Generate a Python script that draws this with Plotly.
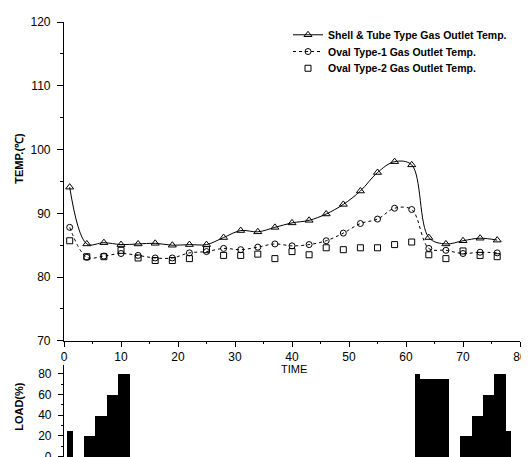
import plotly.graph_objects as go

time = [1, 4, 7, 10, 13, 16, 19, 22, 25, 28, 31, 34, 37, 40, 43, 46, 49, 52, 55, 58, 61, 64, 67, 70, 73, 76]
shell_tube = [94.1, 85.2, 85.4, 85.1, 85.2, 85.3, 85.0, 85.1, 85.1, 86.2, 87.3, 87.1, 87.8, 88.5, 88.9, 89.9,
              91.4, 93.5, 96.4, 98.1, 97.6, 86.2, 85.2, 85.7, 86.1, 85.8]
oval1 = [87.8, 83.1, 83.3, 83.7, 83.4, 83.0, 83.0, 83.8, 84.0, 84.5, 84.3, 84.7, 85.2, 84.9, 85.1, 85.7,
         86.9, 88.4, 89.1, 90.8, 90.6, 84.5, 84.2, 83.7, 83.9, 83.8]
oval2 = [85.7, 83.2, 83.2, 84.2, 83.0, 82.6, 82.6, 82.9, 84.3, 83.4, 83.4, 83.6, 82.9, 84.0, 83.5, 84.6,
         84.3, 84.6, 84.6, 85.1, 85.5, 83.5, 82.9, 84.1, 83.4, 83.2]

load_time = [1, 4, 5, 6, 7, 8, 9, 10, 11, 62, 63, 64, 65, 66, 67, 70, 71, 72, 73, 74, 75, 76, 77, 78]
load_pct = [25, 20, 20, 40, 40, 60, 60, 80, 80, 80, 75, 75, 75, 75, 75, 20, 20, 40, 40, 60, 60, 80, 80, 25]

FONT = "Liberation Sans, Arial, sans-serif"

W, H = 529, 457
L, R, T, B = 56, 17, 14, 0
PW, PH = W - L - R, H - T - B


def px_x(p):
    return (p - L) / PW


def px_y(p):
    return (H - B - p) / PH


fig = go.Figure()
fig.add_trace(go.Scatter(
    x=time, y=shell_tube, mode="lines+markers", name="Shell & Tube Type Gas Outlet Temp.",
    line=dict(color="black", width=1, shape="spline", smoothing=1.0),
    marker=dict(symbol="triangle-up-open", size=7, color="black", line=dict(width=1)),
    xaxis="x", yaxis="y", legend="legend"))
fig.add_trace(go.Scatter(
    x=time, y=oval1, mode="lines+markers", name="Oval Type-1 Gas Outlet Temp.",
    line=dict(color="black", width=1, dash="dot", shape="spline", smoothing=1.0),
    marker=dict(symbol="circle-open", size=6, color="black", line=dict(width=1)),
    xaxis="x", yaxis="y", legend="legend2"))
fig.add_trace(go.Scatter(
    x=time, y=oval2, mode="markers", name="Oval Type-2 Gas Outlet Temp.",
    marker=dict(symbol="square-open", size=6, color="black", line=dict(width=1)),
    xaxis="x", yaxis="y", legend="legend3"))
fig.add_trace(go.Bar(
    x=load_time, y=load_pct, width=1, marker=dict(color="black", line=dict(width=0)),
    showlegend=False, xaxis="x2", yaxis="y2"))

leg_font = dict(family=FONT, size=10.5, color="black", weight="bold")


def leg(row_y):
    return dict(x=px_x(280), y=px_y(row_y), xanchor="left", yanchor="middle",
                font=leg_font, bgcolor="rgba(0,0,0,0)", itemwidth=30)


fig.update_layout(
    width=W, height=H,
    margin=dict(l=L, r=R, t=T, b=B),
    paper_bgcolor="white", plot_bgcolor="white",
    font=dict(family=FONT, size=12, color="black"),
    bargap=0,
    showlegend=True,
    legend=leg(27), legend2=leg(44), legend3=leg(61),
    xaxis=dict(domain=[0, 1], range=[0, 80], anchor="y", dtick=10, tick0=0,
               showline=True, linecolor="black", linewidth=1.2,
               ticks="outside", ticklen=5, tickwidth=1, tickcolor="black",
               minor=dict(dtick=5, ticks="outside", ticklen=2, tickcolor="black"),
               showgrid=False, zeroline=False, tickfont=dict(size=12)),
    yaxis=dict(domain=[px_y(338), 1], range=[70, 120], anchor="x", dtick=10,
               showline=True, linecolor="black", linewidth=1.2,
               ticks="outside", ticklen=6, tickwidth=1, tickcolor="black",
               ticklabelstandoff=4,
               minor=dict(dtick=5, ticks="outside", ticklen=3, tickcolor="black"),
               showgrid=False, zeroline=False, tickfont=dict(size=12)),
    xaxis2=dict(domain=[0, 1], range=[0, 80], anchor="y2", visible=False),
    yaxis2=dict(domain=[0, px_y(362)], range=[-1.5, 89], anchor="x2",
                tickvals=[0, 20, 40, 60, 80],
                showline=True, linecolor="black", linewidth=1.2,
                ticks="outside", ticklen=5, tickwidth=1, tickcolor="black",
                ticklabelstandoff=4,
                minor=dict(dtick=10, ticks="outside", ticklen=2, tickcolor="black"),
                showgrid=False, zeroline=False, tickfont=dict(size=12)),
    annotations=[
        dict(text="TIME", x=px_x(286), y=px_y(367), xref="paper", yref="paper",
             xanchor="center", yanchor="middle",
             showarrow=False, font=dict(size=11)),
        dict(text="TEMP.(℃)", x=px_x(11), y=px_y(153), xref="paper", yref="paper",
             xanchor="center", yanchor="middle",
             showarrow=False, textangle=-90, font=dict(size=11, weight="bold")),
        dict(text="LOAD(%)", x=px_x(11), y=px_y(405), xref="paper", yref="paper",
             xanchor="center", yanchor="middle",
             showarrow=False, textangle=-90, font=dict(size=11, weight="bold")),
    ],
)

fig.write_html("out.html")
